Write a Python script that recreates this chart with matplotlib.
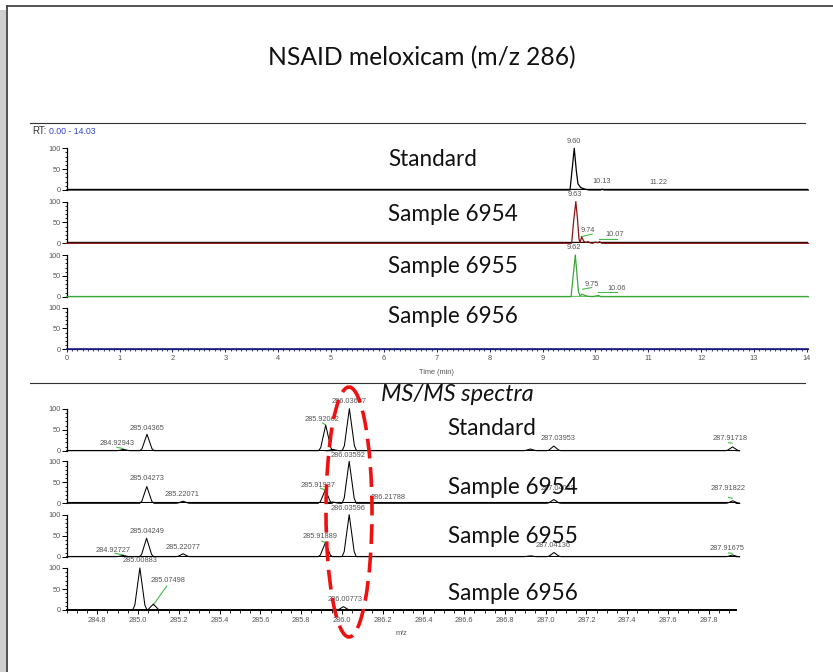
import matplotlib
matplotlib.use("Agg")
import matplotlib.pyplot as plt
from matplotlib.patches import Ellipse, Rectangle
from matplotlib.ticker import MultipleLocator, FixedLocator, FormatStrFormatter

plt.rcParams['font.family'] = ['Liberation Sans', 'DejaVu Sans']

W, H = 833, 672

# ---------------- DATA ----------------
sample_names = ["Standard", "Sample 6954", "Sample 6955", "Sample 6956"]

# Chromatograms: retention time (min) vs relative abundance (%)
chrom_std_t = [0.00, 9.52, 9.56, 9.60, 9.64, 9.67, 9.72, 9.80, 9.88, 10.10, 10.13, 10.16, 14.03]
chrom_std_i = [0, 0, 50, 100, 45, 15, 6, 2, 0, 0, 2, 0, 0]
chrom_6954_t = [0.00, 9.55, 9.59, 9.63, 9.66, 9.69, 9.71, 9.74, 9.78, 9.82, 9.86, 9.90, 9.95,
                10.00, 10.04, 10.08, 10.12, 14.03]
chrom_6954_i = [0, 0, 55, 100, 60, 10, 2, 15, 5, 2, 4, 1, 0, 3, 1, 4, 0, 0]
chrom_6955_t = [0.00, 9.54, 9.58, 9.62, 9.65, 9.68, 9.71, 9.75, 9.80, 9.85, 9.95, 10.02, 10.06,
                10.10, 14.03]
chrom_6955_i = [0, 0, 50, 100, 55, 12, 2, 6, 3, 1, 0, 2, 3, 0, 0]
chrom_6956_t = [0.00, 14.03]
chrom_6956_i = [0, 0]
chrom_peak_labels = [["9.60", "10.13", "11.22"],
                     ["9.63", "9.74", "10.07"],
                     ["9.62", "9.75", "10.06"],
                     []]

# MS/MS spectra: m/z vs relative abundance (%)
ms_std_mz = [284.929, 285.044, 285.921, 285.956, 286.037, 286.925, 287.040, 287.917]
ms_std_int = [3, 39, 61, 3, 100, 4, 11, 9]
ms_6954_mz = [285.043, 285.221, 285.919, 285.956, 286.036, 287.040, 287.918]
ms_6954_int = [40, 5, 32, 3, 100, 9, 6]
ms_6955_mz = [284.927, 285.042, 285.221, 285.919, 286.036, 286.925, 287.041, 287.917]
ms_6955_int = [3, 44, 7, 33, 100, 2, 10, 4]
ms_6956_mz = [285.009, 285.075, 286.008]
ms_6956_int = [100, 14, 8]
ms_peak_labels = [["284.92943", "285.04365", "285.92062", "286.03687", "287.03953", "287.91718"],
                  ["285.04273", "285.22071", "285.91937", "286.03592", "286.21788", "287.04019", "287.91822"],
                  ["284.92727", "285.04249", "285.22077", "285.91889", "286.03596", "287.04136", "287.91675"],
                  ["285.00883", "285.07498", "286.00773"]]

rt_ticks = list(range(0, 15))
mz_ticks = [284.8, 285.0, 285.2, 285.4, 285.6, 285.8, 286.0, 286.2, 286.4, 286.6, 286.8,
            287.0, 287.2, 287.4, 287.6, 287.8]

# ---------------- LAYOUT (positions / styles) ----------------
chrom_label_pos = [[(9.60, 117), (10.12, 20), (11.20, 19)],
                   [(9.61, 116), (9.86, 31), (10.37, 20)],
                   [(9.60, 119), (9.93, 30), (10.40, 20)],
                   []]
chrom_leaders = [[],
                 [((9.73, 16), (9.94, 22)), ((10.07, 10), (10.41, 10))],
                 [((9.76, 18), (9.93, 22)), ((10.05, 11), (10.41, 11))],
                 []]
ms_label_pos = [[(284.895, 18), (285.043, 54), (285.901, 75), (286.035, 116), (287.061, 30), (287.905, 30)],
                [(285.043, 58), (285.214, 21), (285.883, 42), (286.030, 113), (286.227, 13), (287.061, 36), (287.895, 36)],
                [(284.877, 14), (285.043, 60), (285.219, 21), (285.893, 48), (286.030, 115), (287.036, 26), (287.890, 20)],
                [(285.010, 117), (285.146, 71), (286.016, 26)]]
ms_leaders = [[((284.897, 8), (284.927, 5)), ((285.905, 66), (285.918, 62)), ((287.897, 19), (287.915, 18))],
              [((285.895, 36), (285.918, 32)), ((287.897, 14), (287.915, 12))],
              [((284.887, 8), (284.927, 4)), ((285.902, 37), (285.918, 34)), ((287.897, 9), (287.915, 8))],
              [((285.075, 12), (285.141, 57))]]

PROFILE_DX = [-1.0, -0.7, -0.4, 0.0, 0.4, 0.7, 1.0]
PROFILE_Y = [0.0, 0.12, 0.5, 1.0, 0.5, 0.12, 0.0]
PEAK_HW = 0.035

SMALL = 5.3
GRAY = '#555555'
GREEN_LEAD = '#44bb44'
BIG_FONT = ['Lato', 'DejaVu Sans']

fig = plt.figure(figsize=(W / 100, H / 100), dpi=100)
fig.patch.set_facecolor('white')
renderer = fig.canvas.get_renderer()


def add_ax(left, right, top, bottom):
    return fig.add_axes([left / W, 1 - bottom / H, (right - left) / W, (bottom - top) / H])


def style_y(ax):
    for s in ['top', 'right']:
        ax.spines[s].set_visible(False)
    ax.spines['left'].set_linewidth(0.9)
    ax.set_ylim(0, 100)
    ax.yaxis.set_major_locator(FixedLocator([0, 50, 100]))
    ax.yaxis.set_minor_locator(MultipleLocator(10))
    ax.tick_params(axis='y', which='major', length=3.5, width=0.7, pad=0.8,
                   labelsize=SMALL, labelcolor=GRAY)
    ax.tick_params(axis='y', which='minor', length=1.6, width=0.6)
    ax.patch.set_alpha(0)


def hide_x(ax):
    ax.spines['bottom'].set_visible(False)
    ax.set_xticks([])


def small_text(ax, x, y, s):
    ax.text(x, y, s, ha='center', va='center', fontsize=SMALL, color=GRAY, clip_on=False)


# ---------------- chromatograms ----------------
chrom_t = [chrom_std_t, chrom_6954_t, chrom_6955_t, chrom_6956_t]
chrom_i = [chrom_std_i, chrom_6954_i, chrom_6955_i, chrom_6956_i]
chrom_zero = [190.0, 243.3, 296.7, 349.3]
chrom_colors = ['black', '#8b1414', '#3aa63a', '#1c1c7c']
base_colors = ['black', 'black', '#6cc26c', '#1c1c7c']
RT_MAX = 14.03
px_per_min = 52.87
for k in range(4):
    z = chrom_zero[k]
    ax = add_ax(66.7, 66.7 + RT_MAX * px_per_min, z - 41.7, z)
    style_y(ax)
    ax.set_xlim(0, RT_MAX)
    if k < 3:
        hide_x(ax)
        ax.axhline(0, color=base_colors[k], lw=1.7, zorder=2)
        if k == 1:
            ax.axhline(0, color=chrom_colors[k], lw=0.9, zorder=3)
    else:
        ax.spines['bottom'].set_color(chrom_colors[k])
        ax.spines['bottom'].set_linewidth(1.2)
        ax.xaxis.set_major_locator(FixedLocator(rt_ticks))
        ax.xaxis.set_minor_locator(MultipleLocator(0.1))
        ax.tick_params(axis='x', which='major', length=2.5, width=0.7, color=chrom_colors[k],
                       pad=1.5, labelsize=SMALL, labelcolor=GRAY)
        ax.tick_params(axis='x', which='minor', length=1.4, width=0.6, color=chrom_colors[k])
        ax.text(7.0, -55, "Time (min)", fontsize=SMALL, color=GRAY, ha='center', va='center',
                clip_on=False)
    ax.plot(chrom_t[k], chrom_i[k], color=chrom_colors[k], lw=0.9, zorder=4, clip_on=False)
    for s, (x, y) in zip(chrom_peak_labels[k], chrom_label_pos[k]):
        small_text(ax, x, y, s)
    for (p0, p1) in chrom_leaders[k]:
        ax.plot([p0[0], p1[0]], [p0[1], p1[1]], color=GREEN_LEAD, lw=0.8, clip_on=False)

# ---------------- MS/MS spectra ----------------
ms_mz = [ms_std_mz, ms_6954_mz, ms_6955_mz, ms_6956_mz]
ms_int = [ms_std_int, ms_6954_int, ms_6955_int, ms_6956_int]
ms_zero = [450.7, 503.3, 556.7, 610.0]
MZ_LO, MZ_HI = 284.65, 287.934
for k in range(4):
    z = ms_zero[k]
    ax = add_ax(66.7, 736.0, z - 42.0, z)
    style_y(ax)
    ax.set_xlim(MZ_LO, MZ_HI)
    xs, ys = [MZ_LO], [0.0]
    for c, h in sorted(zip(ms_mz[k], ms_int[k])):
        for dx, fy in zip(PROFILE_DX, PROFILE_Y):
            xs.append(c + dx * PEAK_HW)
            ys.append(h * fy)
    xs.append(MZ_HI)
    ys.append(0.0)
    ax.plot(xs, ys, color='black', lw=0.75, zorder=4, clip_on=False)
    if k < 3:
        hide_x(ax)
        ax.axhline(0, color='black', lw=1.5, zorder=3)
    else:
        ax.spines['bottom'].set_linewidth(1.4)
        ax.xaxis.set_major_locator(FixedLocator(mz_ticks))
        ax.xaxis.set_minor_locator(MultipleLocator(0.05))
        ax.xaxis.set_major_formatter(FormatStrFormatter('%.1f'))
        ax.tick_params(axis='x', which='major', length=3.2, width=0.7, pad=1.5,
                       labelsize=SMALL, labelcolor=GRAY)
        ax.tick_params(axis='x', which='minor', length=2.2, width=0.6)
        ax.text(286.29, -55, "m/z", fontsize=SMALL, color=GRAY, ha='center', va='center',
                clip_on=False)
    for s, (x, y) in zip(ms_peak_labels[k], ms_label_pos[k]):
        small_text(ax, x, y, s)
    for (p0, p1) in ms_leaders[k]:
        ax.plot([p0[0], p1[0]], [p0[1], p1[1]], color=GREEN_LEAD, lw=0.8, clip_on=False)


# ---------------- texts ----------------
def fit_text(x_left, baseline, s, width_px, **kw):
    t = fig.text(x_left / W, 1 - baseline / H, s, ha='left', va='baseline', fontsize=10, **kw)
    bb = t.get_window_extent(renderer)
    t.set_fontsize(10 * width_px / bb.width)
    return t


ref = fit_text(388.3, 221.0, sample_names[1], 130.0, family=BIG_FONT, color='#111111')
big_size = ref.get_fontsize()
chrom_base = [165.7, 221.0, 273.0, 323.0]
ms_base = [435.0, 494.3, 543.0, 600.0]
for k in range(4):
    if k != 1:
        fig.text(388.3 / W, 1 - chrom_base[k] / H, sample_names[k], ha='left', va='baseline',
                 fontsize=big_size, family=BIG_FONT, color='#111111')
    fig.text(447.7 / W, 1 - ms_base[k] / H, sample_names[k], ha='left', va='baseline',
             fontsize=big_size, family=BIG_FONT, color='#111111')

fit_text(268, 65, "NSAID meloxicam (m/z 286)", 306, family=BIG_FONT, color='#111111')
fit_text(381, 400.7, "MS/MS spectra", 152, family=BIG_FONT, style='italic', color='#111111')
fit_text(32.3, 133.5, "RT:", 14.5, color='#333333')
fit_text(49.3, 133.5, "0.00 - 14.03", 46.5, color='#3344cc')

# ---------------- overlay: frame, separators, ellipse ----------------
ov = fig.add_axes([0, 0, 1, 1], zorder=10)
ov.set_xlim(0, W)
ov.set_ylim(H, 0)
ov.axis('off')
ov.patch.set_alpha(0)
ov.add_patch(Rectangle((0, 10), 6.2, H - 10, facecolor='#d0d0d0', edgecolor='none'))
ov.plot([6.7, 6.7], [6, H], color='#444444', lw=1.3)
ov.plot([6.7, W], [6, 6], color='#444444', lw=1.3)
ov.plot([30, 805], [123, 123], color='#333333', lw=0.8)
ov.plot([30, 805], [383, 383], color='#333333', lw=0.8)
ov.add_patch(Ellipse((349, 512), 46, 250, facecolor='none', edgecolor='#ee1111', lw=2.6,
                     linestyle=(0, (5.5, 2.4))))

fig.savefig("out.png", dpi=100)
